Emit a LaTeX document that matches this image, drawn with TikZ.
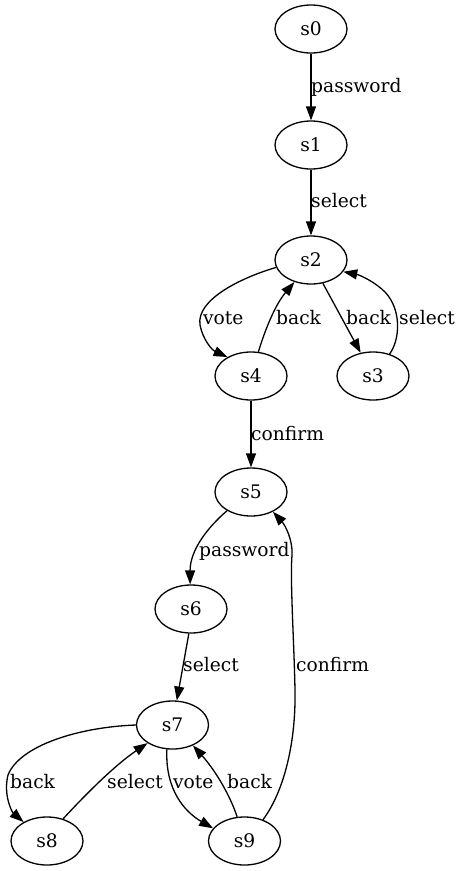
\documentclass[tikz,border=0pt]{standalone}
\usepackage{fontspec}
\setmainfont{DejaVu Serif}
\usetikzlibrary{shapes.geometric,arrows.meta}
\begin{document}
\begin{tikzpicture}[x=1pt,y=-1pt,
  every node/.style={font=\fontsize{18.67}{22}\selectfont},
  state/.style={draw,ellipse,line width=1.3pt,minimum width=72pt,minimum height=48pt,inner sep=0pt},
  lbl/.style={anchor=base west,inner sep=0pt},
  tr/.style={draw,line width=1.3pt,-{Triangle[length=14pt,width=10pt]}}]
\useasboundingbox (0,0) rectangle (461,871);
% states
\node[state] (s0) at (311,29) {s0};
\node[state] (s1) at (311,145) {s1};
\node[state] (s2) at (311,260) {s2};
\node[state] (s4) at (251,376) {s4};
\node[state] (s3) at (373,376) {s3};
\node[state] (s5) at (251,492) {s5};
\node[state] (s6) at (191,609) {s6};
\node[state] (s7) at (172.5,725) {s7};
\node[state] (s8) at (47,841) {s8};
\node[state] (s9) at (244.5,841) {s9};
% transitions
\draw[tr] (s0) -- (s1);
\draw[tr] (s1) -- (s2);
\draw[tr] (s2.192) .. controls (240,278) and (196,300) .. (200,325) .. controls (203,340) and (212,350) .. (s4.141);
\draw[tr] (s4.73) .. controls (265,330) and (275,305) .. (s2.233);
\draw[tr] (s2.297) -- (s3.118);
\draw[tr] (s3.53) .. controls (400,340) and (402,310) .. (385,292) .. controls (375,282) and (360,275) .. (s2.340);
\draw[tr] (s4) -- (s5);
\draw[tr] (s5.218) .. controls (208,527) and (190,550) .. (s6.92);
\draw[tr] (s9.49) .. controls (285,790) and (296,740) .. (295,690) .. controls (294,640) and (290,580) .. (292,555) .. controls (293,540) and (285,525) .. (s5.318);
\draw[tr] (s6.265) -- (s7.80);
\draw[tr] (s7.180) .. controls (80,727) and (20,745) .. (8,775) .. controls (3,795) and (12,812) .. (s8.141);
\draw[tr] (s8.54) .. controls (85,795) and (115,765) .. (s7.216);
\draw[tr] (s7.257) .. controls (165,790) and (185,812) .. (s9.158);
\draw[tr] (s9.107) .. controls (230,795) and (215,770) .. (s7.315);
% transition labels
\node[lbl] (l01) at (311,92) {password};
\node[lbl] (l12) at (311,207) {select};
\node[lbl] (l24) at (203,324) {vote};
\node[lbl] (l42) at (276,324) {back};
\node[lbl] (l23) at (346,324) {back};
\node[lbl] (l32) at (399,324) {select};
\node[lbl] (l45) at (251,440) {confirm};
\node[lbl] (l56) at (199,556) {password};
\node[lbl] (l67) at (183,671) {select};
\node[lbl] (l95) at (296,671) {confirm};
\node[lbl] (l78) at (10,788) {back};
\node[lbl] (l87) at (107,788) {select};
\node[lbl] (l79) at (173,788) {vote};
\node[lbl] (l97) at (227,788) {back};
\end{tikzpicture}
\end{document}
